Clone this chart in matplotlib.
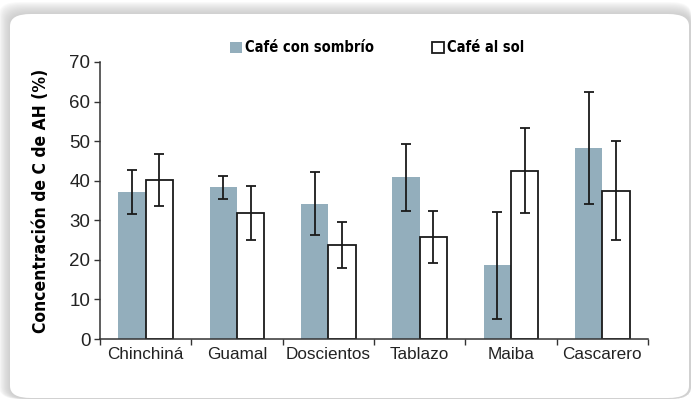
import matplotlib
matplotlib.use("Agg")
import matplotlib.pyplot as plt
from matplotlib.patches import FancyBboxPatch
import numpy as np

# Data: carbon concentration in humic acids (%) by site
sites = ["Chinchiná", "Guamal", "Doscientos", "Tablazo", "Maiba", "Cascarero"]
shade_vals = [37.2, 38.3, 34.2, 40.9, 18.6, 48.3]
shade_err = [5.6, 2.9, 7.9, 8.5, 13.5, 14.2]
sun_vals = [40.2, 31.8, 23.8, 25.7, 42.5, 37.5]
sun_err = [6.5, 6.9, 5.8, 6.6, 10.7, 12.6]
series_labels = ["Café con sombrío", "Café al sol"]
y_ticks = [0, 10, 20, 30, 40, 50, 60, 70]

W, H = 694, 400
fig = plt.figure(figsize=(W / 100, H / 100), dpi=100)
fig.patch.set_facecolor("white")

# Card with a soft shadow on its top and left edges
def px_box(x0, y0, x1, y1):
    return x0 / W, 1 - y1 / H, (x1 - x0) / W, (y1 - y0) / H

card = (10, 14, 689, 398)
for i in range(12, 0, -1):
    x, y, w, h = px_box(card[0] - i * 0.9, card[1] - i * 1.0, card[2] + 2, card[3] + 1)
    fig.patches.append(FancyBboxPatch((x, y), w, h,
                                      boxstyle="round,pad=0,rounding_size=0.03",
                                      transform=fig.transFigure,
                                      facecolor="#b8b8b8", edgecolor="none",
                                      alpha=0.07, zorder=0))
x, y, w, h = px_box(*card)
fig.patches.append(FancyBboxPatch((x, y), w, h,
                                  boxstyle="round,pad=0,rounding_size=0.03",
                                  transform=fig.transFigure,
                                  facecolor="white", edgecolor="none", zorder=1))

ax = fig.add_axes([100 / W, 1 - 339 / H, 548 / W, 277 / H])
ax.set_facecolor("none")
ax.set_zorder(2)

xs = np.arange(len(sites))
bw = 0.3
gray = "#93aebc"
ekw = dict(ecolor="#1a1a1a", elinewidth=1.3, capsize=3.5, capthick=1.3)
ax.bar(xs - bw / 2, shade_vals, bw, color=gray, edgecolor="none",
       yerr=shade_err, error_kw=ekw, label=series_labels[0], zorder=2)
ax.bar(xs + bw / 2, sun_vals, bw, color="white", edgecolor="#1a1a1a",
       linewidth=1.3, yerr=sun_err, error_kw=ekw, label=series_labels[1], zorder=2)

ax.set_xlim(-0.5, len(sites) - 0.5)
ax.set_ylim(0, 70)
ax.set_yticks(y_ticks)
ax.set_xticks(xs)
ax.set_xticklabels(sites)
ax.set_xticks(np.arange(len(sites) + 1) - 0.5, minor=True)
ax.tick_params(axis="x", which="major", length=0, pad=6)
ax.tick_params(axis="x", which="minor", length=4, width=1, direction="out", color="#333333")
ax.tick_params(axis="y", length=4, width=1, direction="out", color="#333333", pad=3)
for lab in ax.get_xticklabels():
    lab.set_fontfamily("Liberation Sans")
    lab.set_fontsize(12.3)
    lab.set_color("#222222")
for lab in ax.get_yticklabels():
    lab.set_fontfamily("Liberation Sans")
    lab.set_fontsize(13.5)
    lab.set_color("#222222")
for s in ["top", "right"]:
    ax.spines[s].set_visible(False)
for s in ["left", "bottom"]:
    ax.spines[s].set_color("#333333")
    ax.spines[s].set_linewidth(1.1)

bold_font = dict(family="DejaVu Sans", stretch="condensed", weight="bold")
ax.set_ylabel("Concentración de C de AH (%)", fontdict=dict(bold_font, size=12.5), labelpad=14)

fig.legend(loc="center", bbox_to_anchor=(377 / W, 1 - 48 / H), ncol=2, frameon=False,
           handlelength=0.8, handleheight=0.8, handletextpad=0.2, columnspacing=4.0,
           prop=dict(bold_font, size=10.5))

fig.savefig("out.png", dpi=100, facecolor="white")
